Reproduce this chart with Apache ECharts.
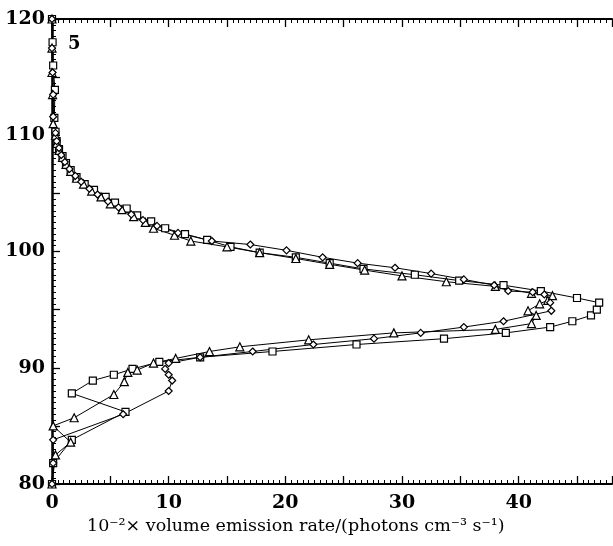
<!DOCTYPE html>
<html>
<head>
<meta charset="utf-8">
<script src="https://cdn.jsdelivr.net/npm/echarts@6/dist/echarts.min.js"></script>
<style>
  html, body { margin: 0; padding: 0; background: #fff; }
  #chart { width: 613px; height: 546px; }
</style>
</head>
<body>
<div id="chart"></div>
<script>
// altitude (km) and emission rate for each profile
const squareAlt = [80.0, 81.8, 83.8, 86.2, 87.8, 88.9, 89.4, 89.9, 90.5, 90.9, 91.4, 92.0, 92.5, 93.0, 93.5, 94.0, 94.5, 95.0, 95.6, 96.0, 96.6, 97.1, 97.5, 98.0, 98.5, 99.0, 99.5, 99.9, 100.4, 101.0, 101.5, 102.0, 102.6, 103.1, 103.7, 104.2, 104.7, 105.3, 105.8, 106.4, 107.0, 107.6, 108.2, 108.8, 109.5, 110.3, 111.5, 113.9, 116.0, 118.0, 120.0];
const squareVal = [0.0, 0.1, 1.7, 6.3, 1.7, 3.5, 5.3, 6.9, 9.2, 12.7, 18.9, 26.1, 33.6, 38.9, 42.7, 44.6, 46.2, 46.7, 46.9, 45.0, 41.9, 38.7, 34.9, 31.1, 26.7, 23.8, 20.9, 17.8, 15.3, 13.3, 11.4, 9.7, 8.5, 7.3, 6.4, 5.4, 4.6, 3.6, 2.8, 2.1, 1.6, 1.2, 0.9, 0.6, 0.4, 0.3, 0.2, 0.25, 0.1, 0.05, 0.0];

const triangleAlt = [80.0, 82.5, 83.6, 85.0, 85.7, 87.7, 88.8, 89.6, 89.8, 90.4, 90.8, 91.4, 91.8, 92.4, 93.0, 93.3, 93.8, 94.5, 94.9, 95.5, 95.8, 96.2, 96.4, 97.0, 97.4, 97.9, 98.4, 98.9, 99.4, 99.9, 100.4, 100.9, 101.4, 102.0, 102.5, 103.0, 103.6, 104.1, 104.7, 105.2, 105.8, 106.3, 106.9, 107.5, 108.1, 108.7, 109.3, 110.0, 111.0, 113.5, 115.4, 117.5, 120.0];
const triangleVal = [0.0, 0.3, 1.6, 0.1, 1.9, 5.3, 6.2, 6.5, 7.3, 8.7, 10.6, 13.5, 16.1, 22.0, 29.3, 38.0, 41.1, 41.5, 40.8, 41.8, 42.5, 42.9, 41.1, 38.0, 33.8, 30.0, 26.8, 23.8, 20.9, 17.8, 15.0, 11.9, 10.5, 8.7, 8.0, 7.0, 6.0, 5.0, 4.2, 3.4, 2.7, 2.1, 1.6, 1.2, 0.9, 0.6, 0.4, 0.3, 0.1, 0.05, 0.0, 0.0, 0.0];

const diamondAlt = [80.0, 81.8, 83.8, 86.0, 88.0, 88.9, 89.4, 89.9, 90.4, 90.9, 91.4, 92.0, 92.5, 93.0, 93.5, 94.0, 94.9, 95.6, 96.3, 96.5, 96.6, 97.1, 97.6, 98.1, 98.6, 99.0, 99.5, 100.1, 100.6, 100.9, 101.6, 102.2, 102.7, 103.2, 103.8, 104.3, 104.9, 105.4, 106.0, 106.5, 107.1, 107.7, 108.3, 108.9, 109.5, 110.2, 111.6, 113.5, 115.4, 117.5, 120.0];
const diamondVal = [0.0, 0.1, 0.1, 6.1, 10.0, 10.3, 10.0, 9.7, 10.0, 12.7, 17.2, 22.4, 27.6, 31.6, 35.3, 38.7, 42.8, 42.7, 42.2, 41.2, 39.1, 37.9, 35.3, 32.5, 29.4, 26.2, 23.2, 20.1, 17.0, 13.7, 10.8, 9.0, 7.8, 6.8, 5.7, 4.8, 3.9, 3.2, 2.5, 2.0, 1.5, 1.1, 0.8, 0.6, 0.4, 0.3, 0.1, 0.1, 0.05, 0.0, 0.0];

const xTicks = [0, 10, 20, 30, 40];
const yTicks = [80, 90, 100, 110, 120];

const pairs = (vals, alts) => vals.map((v, i) => [v, alts[i]]);

const labelFont = { fontFamily: 'DejaVu Serif', fontWeight: 'bold', fontSize: 19, color: '#000' };

function xAxisCfg(pos, showLabel) {
  return {
    type: 'value',
    position: pos,
    min: 0,
    max: 48,
    interval: 5,
    axisLine: { show: true, onZero: false, lineStyle: { color: '#000', width: 2 } },
    axisTick: { show: true, inside: true, length: 8, lineStyle: { color: '#000', width: 1.3 } },
    minorTick: { show: true, splitNumber: 10, length: 4, lineStyle: { color: '#000', width: 1 } },
    splitLine: { show: false },
    axisLabel: {
      show: showLabel,
      margin: 10,
      showMaxLabel: false,
      formatter: v => (xTicks.includes(v) ? String(v) : ''),
      ...labelFont
    }
  };
}

const chart = echarts.init(document.getElementById('chart'));

function lineSeries(name, symbol, size, data) {
  return {
    name: name,
    type: 'line',
    data: data,
    symbol: symbol,
    symbolSize: size,
    showAllSymbol: true,
    lineStyle: { color: '#000', width: 1 },
    itemStyle: { color: '#fff', borderColor: '#000', borderWidth: 1.2 },
    z: 3
  };
}

chart.setOption({
  animation: false,
  backgroundColor: '#fff',
  grid: { left: 52, right: 1, top: 19, bottom: 62 },
  xAxis: [xAxisCfg('bottom', true), xAxisCfg('top', false)],
  yAxis: {
    type: 'value',
    min: 80,
    max: 120,
    interval: 5,
    axisLine: { show: true, onZero: false, lineStyle: { color: '#000', width: 2.5 } },
    axisTick: { show: true, inside: true, length: 8, lineStyle: { color: '#000', width: 1.3 } },
    minorTick: { show: true, splitNumber: 10, length: 4, lineStyle: { color: '#000', width: 1 } },
    splitLine: { show: false },
    axisLabel: {
      margin: 7,
      formatter: v => (yTicks.includes(v) ? String(v) : ''),
      ...labelFont
    }
  },
  title: {
    text: '10⁻²× volume emission rate/(photons cm⁻³ s⁻¹)',
    left: 87,
    top: 517,
    padding: 0,
    textStyle: { fontFamily: 'DejaVu Serif', fontWeight: 'normal', fontSize: 17.5, color: '#000' }
  },
  graphic: [
    {
      type: 'text',
      left: 68,
      top: 35,
      style: { text: '5', fontFamily: 'DejaVu Serif', fontWeight: 'bold', fontSize: 18, fill: '#000' }
    }
  ],
  series: [
    lineSeries('squares', 'rect', 7, pairs(squareVal, squareAlt)),
    lineSeries('triangles', 'triangle', 8, pairs(triangleVal, triangleAlt)),
    lineSeries('diamonds', 'diamond', 7, pairs(diamondVal, diamondAlt))
  ]
});
</script>
</body>
</html>
